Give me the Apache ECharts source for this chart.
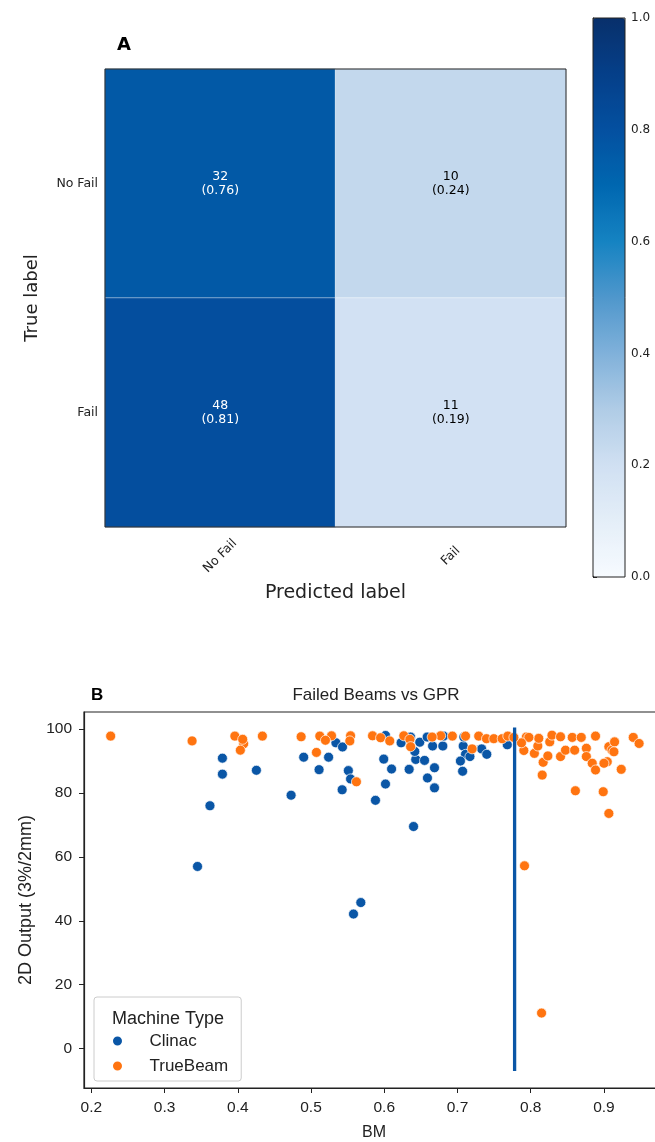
<!DOCTYPE html>
<html>
<head>
<meta charset="utf-8">
<script src="https://cdn.jsdelivr.net/npm/echarts@6/dist/echarts.min.js"></script>
<style>
html,body{margin:0;padding:0;background:#fff;}
#chart{width:655px;height:1142px;}
</style>
</head>
<body>
<div id="chart"></div>
<script>
// ---- Panel A: confusion matrix ----
const cmCategories = ['No Fail', 'Fail'];
const cmCounts = [[32, 10], [48, 11]];      // rows = true label, cols = predicted label
const cmRatios = [[0.76, 0.24], [0.81, 0.19]];
const colorbarTicks = [0, 0.2, 0.4, 0.6, 0.8, 1.0];

// ---- Panel B: scatter BM vs 2D output ----
const clinacPoints = [
  [0.379,90.9],[0.379,85.9],[0.4254,87.1],[0.362,76.0],[0.345,57.0],
  [0.534,95.7],[0.543,94.4],[0.490,91.2],[0.524,91.2],[0.511,87.3],[0.551,87.0],[0.554,84.4],
  [0.5425,81.0],[0.4728,79.3],[0.588,77.7],[0.640,69.5],[0.5993,90.6],[0.610,87.5],[0.6017,82.8],
  [0.623,95.7],[0.634,87.4],[0.6017,98.0],[0.643,90.5],[0.655,90.2],[0.6686,87.9],[0.659,84.7],
  [0.6686,81.6],[0.6485,95.9],[0.636,97.5],[0.6586,97.5],[0.666,94.7],[0.680,94.7],[0.6417,93.0],
  [0.7078,94.7],[0.711,92.1],[0.717,91.4],[0.704,90.0],[0.707,86.8],[0.733,93.8],[0.740,92.1],
  [0.768,95.1],[0.7087,97.5],[0.681,97.8],[0.558,42.1],[0.568,45.7]
];
const trueBeamPoints = [
  [0.2264,97.8],[0.3376,96.3],[0.396,97.8],[0.408,95.4],[0.4035,93.4],[0.4067,96.8],[0.4336,97.8],
  [0.4865,97.6],[0.512,97.8],[0.528,97.9],[0.554,97.9],[0.553,96.3],[0.584,97.9],[0.595,97.3],
  [0.6075,96.3],[0.6267,97.9],[0.635,96.8],[0.636,94.5],[0.677,97.9],[0.693,97.8],[0.5074,92.7],
  [0.562,83.5],[0.5197,96.5],[0.6654,97.5],[0.711,97.8],[0.720,93.8],[0.729,97.8],[0.7396,97.0],
  [0.7496,97.0],[0.761,97.0],[0.7687,97.8],[0.7906,93.3],[0.794,97.5],[0.8157,85.6],[0.817,89.6],
  [0.8234,91.6],[0.805,92.4],[0.8097,94.7],[0.811,97.1],[0.7975,97.4],[0.826,96.0],[0.829,98.1],
  [0.8407,97.6],[0.8407,91.4],[0.8475,93.4],[0.8567,97.4],[0.860,93.4],[0.869,97.4],[0.876,94.0],
  [0.876,91.4],[0.884,89.3],[0.8885,87.2],[0.8885,97.8],[0.861,80.7],[0.899,80.4],[0.9067,73.6],
  [0.9045,89.8],[0.9067,94.5],[0.911,93.4],[0.9145,96.0],[0.9236,87.4],[0.940,97.4],[0.948,95.5],
  [0.7874,95.7],[0.777,97.4],[0.900,89.3],[0.9136,92.9],[0.7915,57.2],[0.8148,11.1]
];
const bmThreshold = 0.778;
const thresholdSpan = [-7, 100.5];
const xTickValues = [0.2, 0.3, 0.4, 0.5, 0.6, 0.7, 0.8, 0.9];
const yTickValues = [0, 20, 40, 60, 80, 100];

const BLUE = '#0a56a6';
const ORANGE = '#ff7410';

const heatData = [];
cmRatios.forEach((row, r) => row.forEach((v, c) => {
  heatData.push({
    value: [c, r, v],
    label: { color: v > 0.5 ? '#ffffff' : '#000000' }
  });
}));

const chart = echarts.init(document.getElementById('chart'), null, { renderer: 'canvas' });
const topFont = 'DejaVu Sans';
const botFont = 'Liberation Sans';

const option = {
  backgroundColor: '#ffffff',
  animation: false,
  title: [
    { text: 'A', left: 112, top: 31, textStyle: { fontFamily: topFont, fontWeight: 'bold', fontSize: 18, color: '#000' } },
    { text: 'B', left: 86, top: 682, textStyle: { fontFamily: botFont, fontWeight: 'bold', fontSize: 17, color: '#000' } },
    { text: 'Failed Beams vs GPR', left: 371, textAlign: 'center', top: 682, textStyle: { fontFamily: botFont, fontWeight: 'normal', fontSize: 17, color: '#222' } },
    { text: 'Machine Type', left: 107, top: 1005, textStyle: { fontFamily: botFont, fontWeight: 'normal', fontSize: 18, color: '#222' } }
  ],
  grid: [
    { left: 105, top: 69, width: 461, height: 458, show: true, borderColor: '#222', borderWidth: 1, backgroundColor: 'transparent', z: 5, outerBoundsMode: 'none' },
    { left: 593, top: 18, width: 32, height: 559, show: true, borderColor: '#222', borderWidth: 1, backgroundColor: 'transparent', z: 6, outerBoundsMode: 'none' },
    { left: 84, top: 712, width: 580, height: 376, show: true, borderColor: '#222', borderWidth: 1.2, backgroundColor: 'transparent', outerBoundsMode: 'none' }
  ],
  xAxis: [
    {
      gridIndex: 0, type: 'category', data: cmCategories,
      axisLine: { show: false },
      axisTick: { alignWithLabel: true, length: 4, lineStyle: { color: '#222' } },
      axisLabel: { rotate: 45, align: 'center', verticalAlign: 'middle', fontFamily: topFont, fontSize: 12.5, color: '#222', margin: 29 },
      splitLine: { show: false },
      name: 'Predicted label', nameLocation: 'middle', nameGap: 57,
      nameTextStyle: { fontFamily: topFont, fontSize: 19, color: '#222' }
    },
    { gridIndex: 1, type: 'value', show: false, min: 0, max: 1 },
    {
      gridIndex: 2, type: 'value', min: 0.19, max: 0.982,
      axisLine: { show: true, onZero: false, lineStyle: { color: '#222', width: 1.2 } },
      axisTick: { show: true, length: 5, customValues: xTickValues, lineStyle: { color: '#222' } },
      axisLabel: { customValues: xTickValues, formatter: v => v.toFixed(1), fontFamily: botFont, fontSize: 15.5, color: '#222', margin: 12 },
      splitLine: { show: false },
      name: 'BM', nameLocation: 'middle', nameGap: 37,
      nameTextStyle: { fontFamily: botFont, fontSize: 16, color: '#222' }
    }
  ],
  yAxis: [
    {
      gridIndex: 0, type: 'category', data: cmCategories, inverse: true,
      axisLine: { show: false },
      axisTick: { alignWithLabel: true, length: 4, lineStyle: { color: '#222' } },
      axisLabel: { fontFamily: topFont, fontSize: 12.5, color: '#222', margin: 7 },
      splitLine: { show: false },
      name: 'True label', nameLocation: 'middle', nameGap: 64, nameRotate: 90,
      nameTextStyle: { fontFamily: topFont, fontSize: 18, color: '#222' }
    },
    {
      gridIndex: 1, type: 'value', position: 'right', min: 0, max: 1, interval: 0.2,
      axisLine: { show: true, lineStyle: { color: '#222' } },
      axisTick: { show: true, length: 4, lineStyle: { color: '#222' } },
      axisLabel: { formatter: v => v.toFixed(1), fontFamily: topFont, fontSize: 12, color: '#222', margin: 6 },
      splitLine: { show: false }
    },
    {
      gridIndex: 2, type: 'value', min: -12.35, max: 105.35,
      axisLine: { show: true, onZero: false, lineStyle: { color: '#222', width: 1.2 } },
      axisTick: { show: true, length: 5, customValues: yTickValues, lineStyle: { color: '#222' } },
      axisLabel: { customValues: yTickValues, fontFamily: botFont, fontSize: 15.5, color: '#222', margin: 12 },
      splitLine: { show: false },
      name: '2D Output (3%/2mm)', nameLocation: 'middle', nameGap: 49, nameRotate: 90,
      nameTextStyle: { fontFamily: botFont, fontSize: 18, color: '#222' }
    }
  ],
  visualMap: {
    type: 'continuous', min: 0, max: 1, seriesIndex: 0,
    left: 593, top: 18, itemWidth: 32, itemHeight: 559, padding: 0,
    calculable: false, hoverLink: false, text: null, showLabel: false,
    inRange: { color: ['#f7fbff','#e4eef8','#d0e0f2','#b0cce6','#80b1da','#4f97cc','#1583c2','#0067b0','#0450a0','#053f89','#08306b'] }
  },
  legend: {
    data: ['Clinac', 'TrueBeam'],
    orient: 'vertical', left: 94, top: 997,
    padding: [35, 13, 6, 17],
    itemWidth: 14, itemHeight: 11, itemGap: 7,
    icon: 'circle',
    backgroundColor: 'rgba(255,255,255,0.85)',
    borderColor: '#cccccc', borderWidth: 1, borderRadius: 3,
    textStyle: { fontFamily: botFont, fontSize: 17, lineHeight: 18, color: '#222', padding: [0, 0, 0, 20] }
  },
  series: [
    {
      type: 'heatmap', xAxisIndex: 0, yAxisIndex: 0,
      data: heatData,
      itemStyle: { borderColor: 'rgba(255,255,255,0.45)', borderWidth: 1 },
      label: {
        show: true, fontFamily: topFont, fontSize: 12.5, lineHeight: 14,
        formatter: p => cmCounts[p.value[1]][p.value[0]] + '\n(' + p.value[2].toFixed(2) + ')'
      },
      emphasis: { disabled: true }
    },
    {
      name: 'Clinac', type: 'scatter', xAxisIndex: 2, yAxisIndex: 2,
      data: clinacPoints, symbol: 'circle', symbolSize: 10,
      itemStyle: { color: BLUE, borderColor: '#ffffff', borderWidth: 0.7, opacity: 1 },
      z: 3
    },
    {
      name: 'TrueBeam', type: 'scatter', xAxisIndex: 2, yAxisIndex: 2,
      data: trueBeamPoints, symbol: 'circle', symbolSize: 10,
      itemStyle: { color: ORANGE, borderColor: '#ffffff', borderWidth: 0.7, opacity: 1 },
      z: 4
    },
    {
      name: 'threshold', type: 'line', xAxisIndex: 2, yAxisIndex: 2,
      data: thresholdSpan.map(y => [bmThreshold, y]),
      showSymbol: false, symbol: 'none',
      lineStyle: { color: BLUE, width: 3.3 },
      z: 5
    }
  ]
};
chart.setOption(option);
</script>
</body>
</html>
